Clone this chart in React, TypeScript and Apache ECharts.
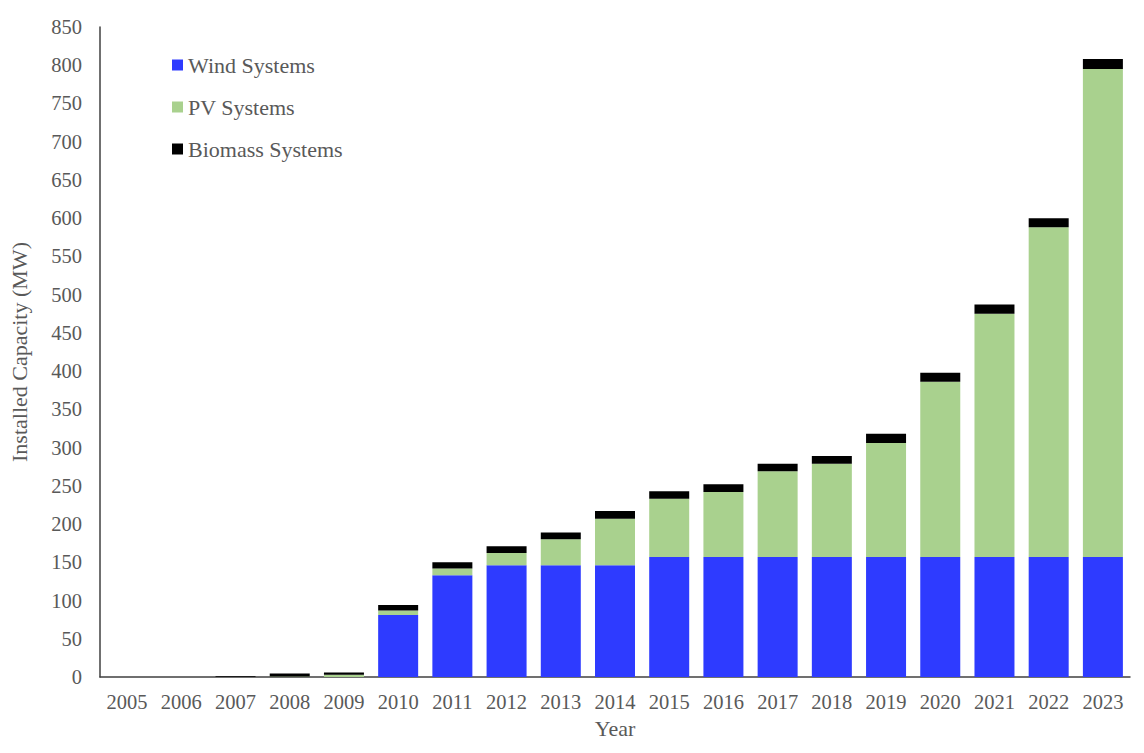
import React, { useEffect, useRef } from "react";
import * as echarts from "echarts";

const years = ["2005","2006","2007","2008","2009","2010","2011","2012","2013","2014","2015","2016","2017","2018","2019","2020","2021","2022","2023"];
const wind = [0, 0, 0, 0, 0, 81, 133, 146, 146, 146, 157, 157, 157, 157, 157, 157, 157, 157, 157];
const pv = [0, 0, 0, 0.5, 3, 6, 9, 16, 34, 61, 76, 85, 112, 122, 149, 229, 318, 431, 638];
const biomass = [0, 0, 1, 4, 3, 7, 8, 9, 9, 10, 10, 10, 10, 10, 12, 12, 12, 12, 13];

const FONT = "Liberation Serif";
const TEXT = "#595959";

export default function App() {
  const ref = useRef<HTMLDivElement>(null);
  useEffect(() => {
    if (!ref.current) return;
    const chart = echarts.init(ref.current, undefined, { renderer: "svg" });
    chart.setOption({
      animation: false,
      textStyle: { fontFamily: FONT },
      grid: { left: 100, right: 14, top: 27, bottom: 76, containLabel: false },
      legend: {
        orient: "vertical",
        left: 167,
        top: 49,
        itemWidth: 11,
        itemHeight: 11,
        itemGap: 20,
        icon: "rect",
        textStyle: { fontFamily: FONT, fontSize: 22, color: TEXT },
        data: ["Wind Systems", "PV Systems", "Biomass Systems"],
      },
      xAxis: {
        type: "category",
        data: years,
        name: "Year",
        nameLocation: "middle",
        nameGap: 40,
        nameTextStyle: { fontFamily: FONT, fontSize: 22, color: TEXT },
        axisLine: { lineStyle: { color: "#404040", width: 1.5 } },
        axisTick: { show: false },
        axisLabel: { fontFamily: FONT, fontSize: 20.5, color: TEXT, margin: 14 },
      },
      yAxis: {
        type: "value",
        min: 0,
        max: 850,
        interval: 50,
        name: "Installed Capacity (MW)",
        nameLocation: "middle",
        nameGap: 70,
        nameTextStyle: { fontFamily: FONT, fontSize: 22, color: TEXT },
        axisLine: { show: true, lineStyle: { color: "#404040", width: 1.5 } },
        axisTick: { show: false },
        splitLine: { show: false },
        axisLabel: { fontFamily: FONT, fontSize: 20.5, color: TEXT, margin: 18 },
      },
      series: [
        { name: "Wind Systems", type: "bar", stack: "total", data: wind, barWidth: 40, itemStyle: { color: "#2E3BFF" } },
        { name: "PV Systems", type: "bar", stack: "total", data: pv, barWidth: 40, itemStyle: { color: "#A9D18E" } },
        { name: "Biomass Systems", type: "bar", stack: "total", data: biomass, barWidth: 40, itemStyle: { color: "#000000" } },
      ],
    });
    return () => chart.dispose();
  }, []);
  return <div ref={ref} style={{ width: 1144, height: 753, position: "absolute", left: 0, top: 0 }} />;
}
